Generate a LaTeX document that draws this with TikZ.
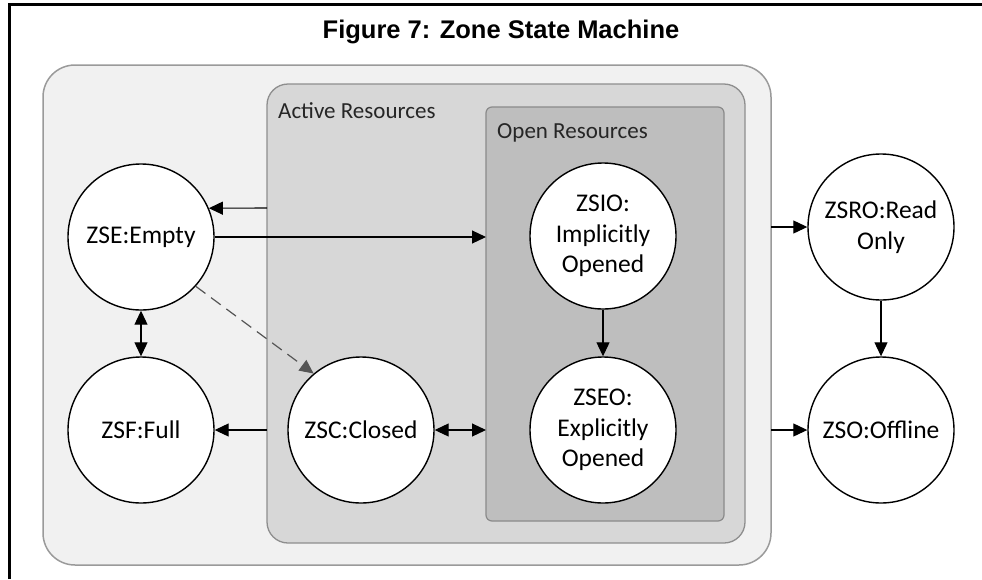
\documentclass[tikz,border=0pt]{standalone}
\usepackage{fontspec}
\setmainfont{Carlito}
\newfontfamily\titlefont{Liberation Sans}
\usetikzlibrary{arrows.meta}
\definecolor{outerfill}{HTML}{F1F1F1}
\definecolor{outerdraw}{HTML}{9A9A9A}
\definecolor{activefill}{HTML}{D7D7D7}
\definecolor{activedraw}{HTML}{8E8E8E}
\definecolor{openfill}{HTML}{BEBEBE}
\definecolor{opendraw}{HTML}{8A8A8A}
\definecolor{dashgray}{HTML}{555555}
\tikzset{
  state/.style={circle, draw=black, line width=1.4pt, fill=white, minimum size=146pt, inner sep=0pt, align=center, font=\fontsize{25.5}{30.5}\selectfont},
  conn/.style={line width=1.1pt, draw=black, -{Triangle[length=14pt,width=13pt]}},
  biconn/.style={line width=1.1pt, draw=black, {Triangle[length=14pt,width=13pt]}-{Triangle[length=14pt,width=13pt]}},
  dconn/.style={line width=1.2pt, draw=dashgray, dash pattern=on 12pt off 7pt, -{Triangle[length=14pt,width=13pt,fill=dashgray]}},
  grouplabel/.style={anchor=base west, inner sep=0pt, font=\fontsize{23}{27}\selectfont, text=black!85}
}
\begin{document}
\begin{tikzpicture}[x=1pt,y=-1pt]
\useasboundingbox (0,0) rectangle (982,579);
% frame lines
\draw[line width=3pt, black] (9.5,579) -- (9.5,4) -- (982,4);
% title
\node[font=\titlefont\bfseries\fontsize{25.5}{30}\selectfont] (title) at (501,32) {Figure 7: Zone State Machine};
% group boxes
\draw[rounded corners=32pt, fill=outerfill, draw=outerdraw, line width=1.5pt] (43,65) rectangle (771,565);
\draw[rounded corners=21pt, fill=activefill, draw=activedraw, line width=1.3pt] (267,84) rectangle (745,543);
\draw[rounded corners=6pt, fill=openfill, draw=opendraw, line width=1.2pt] (486,107) rectangle (724,521);
\node[grouplabel] (activelbl) at (278,118) {Active Resources};
\node[grouplabel] (openlbl) at (497,138) {Open Resources};
% edge coordinates
\coordinate (actL1) at (267,208);
\coordinate (actL2) at (267,430);
\coordinate (openL1) at (486,237);
\coordinate (openL2) at (486,430);
\coordinate (outR1) at (771,227);
\coordinate (outR2) at (771,430);
% states
\node[state] (zse) at (141,237) {ZSE:Empty};
\node[state] (zsf) at (141,430) {ZSF:Full};
\node[state] (zsc) at (361,430) {ZSC:Closed};
\node[state] (zsio) at (603,236) {ZSIO:\\Implicitly\\Opened};
\node[state] (zseo) at (603,430) {ZSEO:\\Explicitly\\Opened};
\node[state] (zsro) at (881,227) {ZSRO:Read\\Only};
\node[state] (zso) at (881,430) {ZSO:Offline};
% connectors
\draw[conn] (actL1) -- (zse.23.4);
\draw[conn] (zse.east) -- (openL1);
\draw[biconn] (zse.south) -- (zsf.north);
\draw[dconn] (zse.-42) -- (zsc.130);
\draw[conn] (actL2) -- (zsf.east);
\draw[biconn] (zsc.east) -- (openL2);
\draw[conn] (zsio.south) -- (zseo.north);
\draw[conn] (outR1) -- (zsro.west);
\draw[conn] (outR2) -- (zso.west);
\draw[conn] (zsro.south) -- (zso.north);
\end{tikzpicture}
\end{document}
